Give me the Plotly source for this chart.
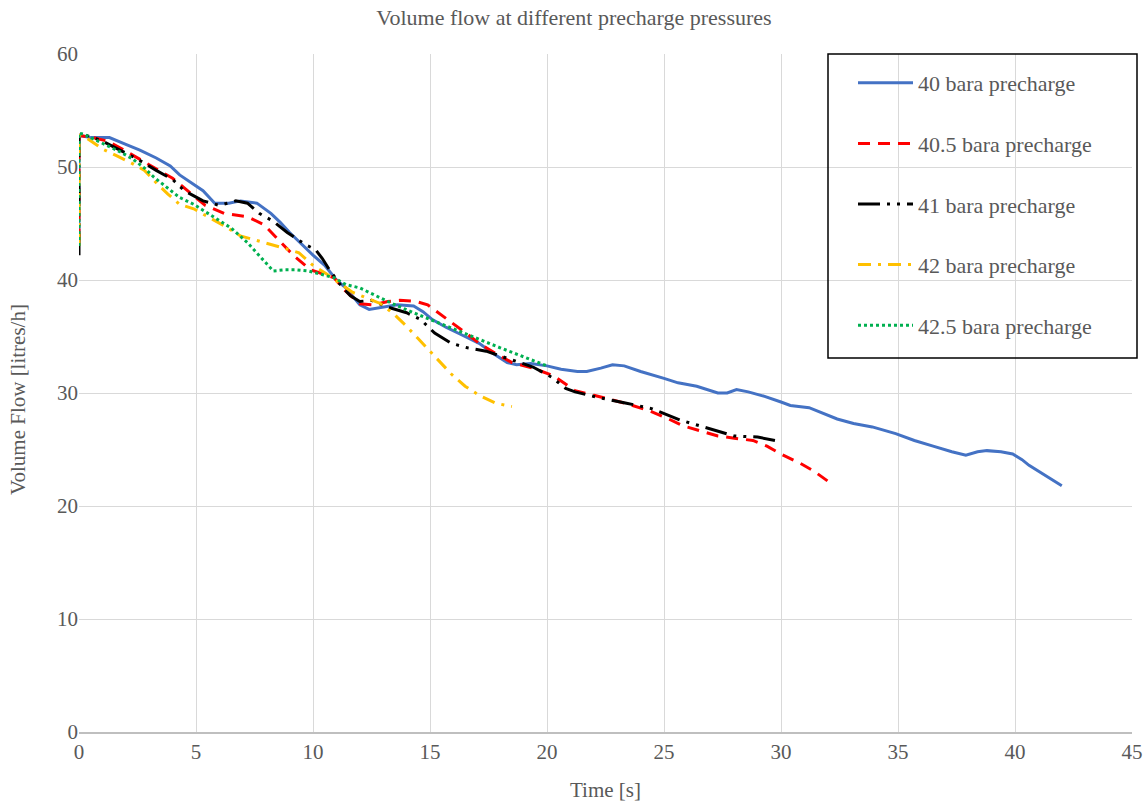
import plotly.graph_objects as go

# Volume flow [litres/h] against time [s] for five precharge pressures
t_40 = [0, 0, 0.5, 1.3, 2.0, 2.6, 3.3, 3.9, 4.3, 4.9, 5.3, 5.8, 6.4, 6.9, 7.6, 8.2, 8.6, 9.0, 9.5,
        10.0, 10.5, 11.0, 11.4, 12.0, 12.4, 13.1, 13.6, 14.3, 14.7, 15.1, 15.7, 16.3, 17.1, 17.7,
        18.3, 18.7, 19.3, 20.0, 20.6, 21.3, 21.7, 22.3, 22.8, 23.3, 24.0, 25.0, 25.6, 26.4, 27.3,
        27.7, 28.1, 28.6, 29.3, 30.0, 30.4, 31.2, 31.7, 32.4, 33.1, 33.9, 34.9, 35.7, 36.5, 37.3,
        37.9, 38.4, 38.8, 39.4, 39.9, 40.3, 40.6, 41.3, 42.0]
q_40 = [43.0, 52.8, 52.6, 52.6, 52.0, 51.5, 50.8, 50.1, 49.3, 48.5, 47.9, 46.8, 46.8, 47.0, 46.8,
        45.9, 45.1, 44.2, 43.2, 42.2, 41.3, 40.0, 39.3, 37.8, 37.4, 37.6, 37.8, 37.7, 37.2, 36.5,
        35.8, 35.2, 34.4, 33.5, 32.7, 32.5, 32.6, 32.4, 32.1, 31.9, 31.9, 32.2, 32.5, 32.4, 31.9,
        31.3, 30.9, 30.6, 30.0, 30.0, 30.3, 30.1, 29.7, 29.2, 28.9, 28.7, 28.3, 27.7, 27.3, 27.0,
        26.4, 25.8, 25.3, 24.8, 24.5, 24.8, 24.9, 24.8, 24.6, 24.1, 23.6, 22.7, 21.8]

t_405 = [0, 0, 0.6, 1.2, 1.75, 2.5, 3.2, 4.0, 4.7, 5.4, 6.2, 7.2, 7.9, 8.6, 9.2, 9.9, 10.9, 11.3,
         12.0, 12.6, 13.2, 13.7, 14.4, 14.9, 15.5, 16.0, 16.6, 17.1, 17.8, 18.5, 19.4, 20.3, 21.2,
         22.0, 22.7, 23.5, 24.4, 25.1, 25.8, 26.6, 27.3, 28.0, 28.8, 29.4, 30.0, 30.8, 31.4, 32.0]
q_405 = [43.5, 52.8, 52.6, 52.3, 51.7, 50.8, 49.9, 49.0, 47.8, 46.6, 45.9, 45.6, 44.9, 43.4, 42.1,
         40.9, 40.2, 39.2, 37.9, 37.8, 38.1, 38.2, 38.1, 37.8, 36.9, 36.1, 35.2, 34.4, 33.5, 32.7,
         32.2, 31.5, 30.2, 29.8, 29.4, 29.0, 28.4, 27.8, 27.1, 26.6, 26.2, 26.0, 25.8, 25.3, 24.6,
         23.8, 23.1, 22.2]

t_41 = [0, 0, 0.3, 1.0, 1.75, 2.5, 3.3, 4.0, 4.5, 5.3, 6.0, 6.7, 7.2, 7.7, 8.3, 8.9, 9.7, 10.1,
        10.4, 10.7, 11.2, 11.6, 12.0, 12.5, 13.2, 14.0, 14.6, 15.2, 15.9, 16.6, 17.4, 18.3, 19.4,
        20.2, 20.8, 21.2, 22.2, 23.4, 24.5, 25.7, 26.8, 28.0, 29.0, 30.0]
q_41 = [42.2, 52.8, 52.8, 52.3, 51.5, 50.7, 49.7, 48.9, 47.9, 47.0, 46.6, 47.0, 46.8, 45.9, 45.2,
        44.2, 43.1, 42.7, 41.9, 40.9, 39.5, 38.6, 38.1, 38.2, 37.6, 37.1, 36.5, 35.3, 34.4, 34.0,
        33.7, 33.1, 32.3, 31.4, 30.4, 30.1, 29.6, 29.1, 28.6, 27.6, 26.9, 26.2, 26.1, 25.7]

t_42 = [0, 0, 0.3, 1.0, 1.6, 2.2, 2.8, 3.3, 3.8, 4.3, 4.9, 5.6, 6.2, 6.9, 7.6, 8.2, 8.8, 9.4,
        10.0, 10.6, 11.2, 11.7, 12.3, 12.9, 13.5, 14.0, 14.5, 15.0, 15.5, 15.9, 16.5, 17.1, 17.8,
        18.5]
q_42 = [43.0, 52.8, 52.6, 51.6, 51.0, 50.4, 49.7, 48.6, 47.6, 46.7, 46.3, 45.5, 44.8, 43.9, 43.5,
        43.1, 42.8, 42.4, 41.3, 40.5, 39.6, 38.9, 38.4, 37.9, 36.9, 35.9, 34.8, 33.7, 32.6, 31.7,
        30.6, 29.8, 29.1, 28.8]

t_425 = [0, 0, 0.2, 0.7, 1.2, 1.8, 2.3, 2.8, 3.2, 3.9, 4.3, 4.9, 5.6, 6.0, 6.5, 7.2, 7.9, 8.3,
         8.8, 9.3, 9.8, 10.3, 10.9, 11.4, 12.0, 12.6, 13.4, 14.3, 15.0, 15.7, 16.4, 17.1, 18.0,
         19.0, 20.0]
q_425 = [43.0, 53.0, 52.9, 52.4, 51.9, 51.3, 50.7, 49.9, 49.1, 48.0, 47.3, 46.7, 45.8, 45.3, 44.6,
         43.3, 41.7, 40.8, 40.9, 40.9, 40.8, 40.5, 40.2, 39.6, 39.3, 38.7, 37.9, 37.1, 36.5, 35.9,
         35.3, 34.7, 34.0, 33.2, 32.4]

x_ticks = [0, 5, 10, 15, 20, 25, 30, 35, 40, 45]
y_ticks = [0, 10, 20, 30, 40, 50, 60]

FONT = "Liberation Serif"
GREY = "#595959"

series = [
    ("40 bara precharge", t_40, q_40, "#4472C4", "solid"),
    ("40.5 bara precharge", t_405, q_405, "#FF0000", "12px,8px"),
    ("41 bara precharge", t_41, q_41, "#000000", "22px,7px,3px,7px,3px,7px"),
    ("42 bara precharge", t_42, q_42, "#FFC000", "13px,7px,3px,7px"),
    ("42.5 bara precharge", t_425, q_425, "#00B050", "3px,3px"),
]

fig = go.Figure()
for i, (name, tx, qy, color, dash) in enumerate(series):
    fig.add_trace(go.Scatter(
        x=tx, y=qy, mode="lines", name=name, legendgroup=f"g{i}",
        line=dict(color=color, width=3, dash=dash),
    ))

PW, PH = 1053, 678

fig.update_layout(
    width=1148, height=802,
    margin=dict(l=79, r=16, t=54, b=70),
    paper_bgcolor="white", plot_bgcolor="white",
    font=dict(family=FONT, color=GREY, size=21),
    title=dict(text="Volume flow at different precharge pressures", x=0.5, xanchor="center",
               y=1 - 17 / 802, yanchor="middle", yref="container",
               font=dict(family=FONT, size=22, color=GREY)),
    xaxis=dict(range=[0, 45], tickvals=x_ticks, showgrid=True, gridcolor="#d9d9d9", gridwidth=1,
               zeroline=False, showline=True, linecolor="#bfbfbf", linewidth=2, ticks="",
               automargin=False, tickfont=dict(family=FONT, size=21, color=GREY)),
    yaxis=dict(range=[0, 60], tickvals=y_ticks, showgrid=True, gridcolor="#d9d9d9", gridwidth=1,
               zeroline=False, showline=False, ticks="", automargin=False,
               tickfont=dict(family=FONT, size=21, color=GREY)),
    annotations=[
        dict(text="Volume Flow [litres/h]", textangle=-90, xref="paper", yref="paper",
             x=(18 - 79) / PW, y=(732 - 400) / PH, xanchor="center", yanchor="middle",
             showarrow=False, font=dict(family=FONT, size=21, color=GREY)),
        dict(text="Time [s]", xref="paper", yref="paper",
             x=(605 - 79) / PW, y=(732 - 790) / PH, xanchor="center", yanchor="middle",
             showarrow=False, font=dict(family=FONT, size=21, color=GREY)),
    ],
    showlegend=True,
    legend=dict(x=(853 - 79) / PW, xanchor="left", y=(732 - 62) / PH, yanchor="top",
                bgcolor="rgba(0,0,0,0)", borderwidth=0, traceorder="grouped", tracegroupgap=29,
                itemwidth=55, font=dict(family=FONT, size=22, color=GREY)),
    shapes=[dict(type="rect", xref="paper", yref="paper",
                 x0=(828 - 79) / PW, x1=(1137 - 79) / PW,
                 y0=(732 - 358) / PH, y1=(732 - 54) / PH,
                 line=dict(color="#000000", width=1.5), fillcolor="rgba(0,0,0,0)")],
)

fig.write_html("out.html")
